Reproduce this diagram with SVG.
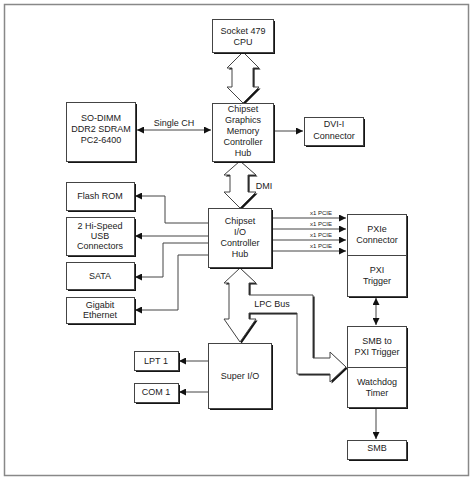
<svg xmlns="http://www.w3.org/2000/svg" width="474" height="481" viewBox="0 0 474 481">
<defs>
<style>
.box{fill:#fff;stroke:#444;stroke-width:1}
.sh{fill:#151515}
.t{font-family:"Liberation Sans",Arial,sans-serif;font-size:9px;fill:#222;text-anchor:middle}
.s{font-family:"Liberation Sans",Arial,sans-serif;font-size:6px;fill:#222;text-anchor:middle}
.ln{fill:none;stroke:#444;stroke-width:1}
.ha{fill:#fff;stroke:#444;stroke-width:1;stroke-linejoin:miter}
</style>
<marker id="ah" markerUnits="userSpaceOnUse" markerWidth="8" markerHeight="7" refX="7" refY="3.5" orient="auto-start-reverse"><path d="M0,0 L7,3.5 L0,7 Z" fill="#111"/></marker>
</defs>
<rect x="0" y="0" width="474" height="481" fill="#fff"/>
<rect x="4.5" y="4.5" width="464" height="471" fill="none" stroke="#888" stroke-width="1.5"/>

<g id="connectors">
<line class="ln" x1="137" y1="130" x2="211" y2="130" marker-start="url(#ah)" marker-end="url(#ah)"/>
<line class="ln" x1="273" y1="131" x2="303" y2="131" marker-end="url(#ah)"/>
<polyline class="ln" points="208,223 165,223 165,196 135,196" marker-end="url(#ah)"/>
<line class="ln" x1="208" y1="236" x2="135" y2="236" marker-end="url(#ah)"/>
<polyline class="ln" points="208,243 163,243 163,277 135,277" marker-end="url(#ah)"/>
<polyline class="ln" points="208,255 178,255 178,310 135,310" marker-end="url(#ah)"/>
<line class="ln" x1="271" y1="218" x2="346" y2="218" marker-end="url(#ah)"/>
<line class="ln" x1="271" y1="229" x2="346" y2="229" marker-end="url(#ah)"/>
<line class="ln" x1="271" y1="240" x2="346" y2="240" marker-end="url(#ah)"/>
<line class="ln" x1="271" y1="251" x2="346" y2="251" marker-end="url(#ah)"/>
<text class="s" x="321" y="215">x1 PCIE</text>
<text class="s" x="321" y="226">x1 PCIE</text>
<text class="s" x="321" y="237">x1 PCIE</text>
<text class="s" x="321" y="248">x1 PCIE</text>
<line class="ln" x1="376" y1="298" x2="376" y2="325" marker-start="url(#ah)" marker-end="url(#ah)"/>
<line class="ln" x1="376" y1="409" x2="376" y2="439" marker-end="url(#ah)"/>
<line class="ln" x1="208" y1="361" x2="179" y2="361" marker-end="url(#ah)"/>
<line class="ln" x1="208" y1="392" x2="179" y2="392" marker-end="url(#ah)"/>
<text class="t" x="174" y="126">Single CH</text>
<!-- hollow bus arrows -->
<path class="sh" transform="translate(1.6,1.6)" d="M243,52 L259,68 L253,68 L253,87 L259,87 L243,103 L227,87 L232,87 L232,68 L227,68 Z"/>
<path class="ha" d="M243,52 L259,68 L253,68 L253,87 L259,87 L243,103 L227,87 L232,87 L232,68 L227,68 Z"/>
<path class="sh" transform="translate(1.6,1.6)" d="M240,161 L256,175 L248,175 L248,192 L256,192 L240,208 L224,192 L230,192 L230,175 L224,175 Z"/>
<path class="ha" d="M240,161 L256,175 L248,175 L248,192 L256,192 L240,208 L224,192 L230,192 L230,175 L224,175 Z"/>
<text class="t" x="264" y="189">DMI</text>
<path class="sh" transform="translate(1.6,1.6)" d="M240,268 L256,283 L249,283 L249,295 L313,295 L313,358 L330,358 L330,352 L346,367 L330,382 L330,374 L297,374 L297,313 L249,313 L249,319 L256,319 L240,342 L224,319 L229,319 L229,283 L224,283 Z"/>
<path class="ha" d="M240,268 L256,283 L249,283 L249,295 L313,295 L313,358 L330,358 L330,352 L346,367 L330,382 L330,374 L297,374 L297,313 L249,313 L249,319 L256,319 L240,342 L224,319 L229,319 L229,283 L224,283 Z"/>
<text class="t" x="272" y="307">LPC Bus</text>
</g>

<g id="cpu"><rect class="sh" x="214" y="21" width="61" height="33"/><rect class="box" x="212.5" y="19.5" width="61" height="33"/><text class="t" x="243" y="34">Socket 479</text><text class="t" x="243" y="45">CPU</text></g>
<g id="gmch"><rect class="sh" x="214" y="105" width="61" height="58"/><rect class="box" x="212.5" y="103.5" width="61" height="58"/><text class="t" x="243" y="112">Chipset</text><text class="t" x="243" y="123">Graphics</text><text class="t" x="243" y="134">Memory</text><text class="t" x="243" y="145">Controller</text><text class="t" x="243" y="156">Hub</text></g>
<g id="sodimm"><rect class="sh" x="68" y="104" width="69" height="59"/><rect class="box" x="66.5" y="102.5" width="69" height="59"/><text class="t" x="101" y="121">SO-DIMM</text><text class="t" x="101" y="132">DDR2 SDRAM</text><text class="t" x="101" y="143">PC2-6400</text></g>
<g id="dvi"><rect class="sh" x="306" y="119" width="59" height="28"/><rect class="box" x="304.5" y="117.5" width="59" height="28"/><text class="t" x="334" y="127">DVI-I</text><text class="t" x="334" y="139">Connector</text></g>
<g id="flash"><rect class="sh" x="68" y="184" width="68" height="28"/><rect class="box" x="66.5" y="182.5" width="68" height="28"/><text class="t" x="100" y="199">Flash ROM</text></g>
<g id="usb"><rect class="sh" x="68" y="219" width="68" height="38"/><rect class="box" x="66.5" y="217.5" width="68" height="38"/><text class="t" x="100" y="229">2 Hi-Speed</text><text class="t" x="100" y="239">USB</text><text class="t" x="100" y="249">Connectors</text></g>
<g id="sata"><rect class="sh" x="68" y="264" width="68" height="27"/><rect class="box" x="66.5" y="262.5" width="68" height="27"/><text class="t" x="100" y="279">SATA</text></g>
<g id="gige"><rect class="sh" x="68" y="299" width="68" height="26"/><rect class="box" x="66.5" y="297.5" width="68" height="26"/><text class="t" x="100" y="308">Gigabit</text><text class="t" x="100" y="318">Ethernet</text></g>
<g id="ich"><rect class="sh" x="210" y="210" width="63" height="59"/><rect class="box" x="208.5" y="208.5" width="63" height="59"/><text class="t" x="240" y="224">Chipset</text><text class="t" x="240" y="235">I/O</text><text class="t" x="240" y="246">Controller</text><text class="t" x="240" y="257">Hub</text></g>
<g id="pxie"><rect class="sh" x="349" y="216" width="59" height="82"/><rect class="box" x="347.5" y="214.5" width="59" height="82"/><line class="ln" x1="347.5" y1="255.5" x2="406.5" y2="255.5"/><text class="t" x="377" y="232">PXIe</text><text class="t" x="377" y="243">Connector</text><text class="t" x="377" y="273">PXI</text><text class="t" x="377" y="284">Trigger</text></g>
<g id="smbtrig"><rect class="sh" x="349" y="328" width="59" height="81"/><rect class="box" x="347.5" y="326.5" width="59" height="81"/><line class="ln" x1="347.5" y1="367.5" x2="406.5" y2="367.5"/><text class="t" x="377" y="344">SMB to</text><text class="t" x="377" y="355">PXI Trigger</text><text class="t" x="377" y="385">Watchdog</text><text class="t" x="377" y="396">Timer</text></g>
<g id="smb"><rect class="sh" x="349" y="442" width="59" height="19"/><rect class="box" x="347.5" y="440.5" width="59" height="19"/><text class="t" x="377" y="451">SMB</text></g>
<g id="superio"><rect class="sh" x="210" y="345" width="63" height="65"/><rect class="box" x="208.5" y="343.5" width="63" height="65"/><text class="t" x="240" y="379">Super I/O</text></g>
<g id="lpt"><rect class="sh" x="136" y="353" width="44" height="19"/><rect class="box" x="134.5" y="351.5" width="44" height="19"/><text class="t" x="156" y="364">LPT 1</text></g>
<g id="com"><rect class="sh" x="136" y="385" width="44" height="19"/><rect class="box" x="134.5" y="383.5" width="44" height="19"/><text class="t" x="156" y="395">COM 1</text></g>
</svg>
